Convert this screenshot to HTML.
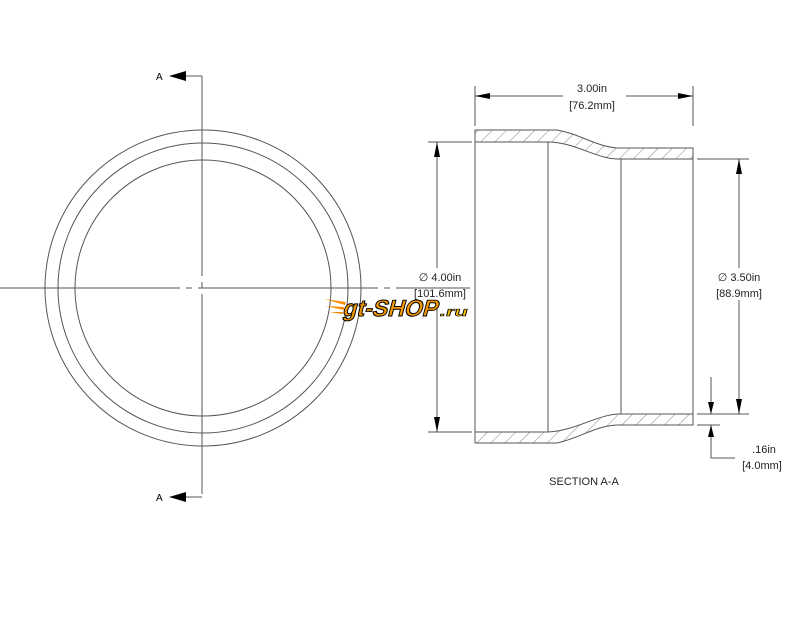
<!DOCTYPE html>
<html><head><style>body{margin:0;background:#fff}svg{display:block}</style></head><body>
<svg width="800" height="618" viewBox="0 0 800 618" xmlns="http://www.w3.org/2000/svg" font-family="Liberation Sans, sans-serif">
<defs>
<pattern id="h" patternUnits="userSpaceOnUse" width="10" height="10" patternTransform="rotate(45)">
<rect width="10" height="10" fill="#fff"/><line x1="0" y1="0" x2="0" y2="10" stroke="#666" stroke-width="0.8"/>
</pattern>
</defs>
<g fill="none" stroke="#555" stroke-width="1">
<circle cx="203" cy="288" r="158"/>
<circle cx="203" cy="288" r="145"/>
<circle cx="203" cy="288" r="128"/>
<line x1="0" y1="288" x2="470" y2="288" stroke-dasharray="180,6,6,6"/>
<line x1="202" y1="76" x2="202" y2="497" stroke-dasharray="200,6,6,6"/>
<polyline points="186,76 202,76"/>
<polyline points="186,497 202,497"/>
</g>
<polygon points="169,76 186,71 186,81" fill="#000"/>
<polygon points="169,497 186,492 186,502" fill="#000"/>
<text x="156" y="80" font-size="10">A</text>
<text x="156" y="501" font-size="10">A</text>

<g stroke="#555" stroke-width="1">
<path d="M475,130 L557,130 C580,134 595,146 617,148 L693,148 L693,159 L620,159 C598,160 575,142 548,142 L475,142 Z" fill="url(#h)"/>
<path d="M475,443 L557,443 C580,438 595,426 617,425 L693,425 L693,414 L620,414 C598,414 575,431 548,432 L475,432 Z" fill="url(#h)"/>
<line x1="475" y1="142" x2="475" y2="432"/>
<line x1="548" y1="142" x2="548" y2="432"/>
<line x1="621" y1="159" x2="621" y2="414"/>
<line x1="693" y1="159" x2="693" y2="414"/>
<line x1="475" y1="86" x2="475" y2="126"/>
<line x1="693" y1="86" x2="693" y2="126"/>
<line x1="475" y1="96" x2="563" y2="96"/>
<line x1="626" y1="96" x2="693" y2="96"/>
<line x1="428" y1="142" x2="472" y2="142"/>
<line x1="428" y1="432" x2="472" y2="432"/>
<line x1="437" y1="142" x2="437" y2="268"/>
<line x1="437" y1="300" x2="437" y2="432"/>
<line x1="697" y1="159" x2="749" y2="159"/>
<line x1="697" y1="414" x2="749" y2="414"/>
<line x1="739" y1="159" x2="739" y2="268"/>
<line x1="739" y1="300" x2="739" y2="414"/>
<line x1="697" y1="425" x2="720" y2="425"/>
<line x1="711" y1="377" x2="711" y2="414"/>
<polyline points="711,425 711,458 735,458" fill="none"/>
</g>
<g fill="#000">
<polygon points="475,96 490,93 490,99"/>
<polygon points="693,96 678,93 678,99"/>
<polygon points="437,142 434,157 440,157"/>
<polygon points="437,432 434,417 440,417"/>
<polygon points="739,159 736,174 742,174"/>
<polygon points="739,414 736,399 742,399"/>
<polygon points="711,414 708,402 714,402"/>
<polygon points="711,425 708,437 714,437"/>
</g>
<g font-size="11" fill="#222" text-anchor="middle">
<text x="592" y="92">3.00in</text>
<text x="592" y="109">[76.2mm]</text>
<text x="440" y="281">∅ 4.00in</text>
<text x="440" y="297">[101.6mm]</text>
<text x="739" y="281">∅ 3.50in</text>
<text x="739" y="297">[88.9mm]</text>
<text x="764" y="453">.16in</text>
<text x="762" y="469">[4.0mm]</text>
<text x="584" y="485">SECTION A-A</text>
</g>
<g transform="translate(325,297) skewX(-15)">
<polygon points="0,2 22,5 22,8" fill="#f58a00"/>
<polygon points="3,9 22,10 22,13" fill="#f58a00"/>
<polygon points="8,15 22,15 22,17" fill="#f58a00"/>
<text x="22" y="19" font-size="23" font-weight="bold" fill="#f59a00" stroke="#000" stroke-width="1" textLength="95" lengthAdjust="spacingAndGlyphs">gt-SHOP</text>
<text x="119" y="19" font-size="13" font-weight="bold" fill="#f7c000" stroke="#000" stroke-width="0.6" textLength="28" lengthAdjust="spacingAndGlyphs">.ru</text>
</g>
</svg>
</body></html>
